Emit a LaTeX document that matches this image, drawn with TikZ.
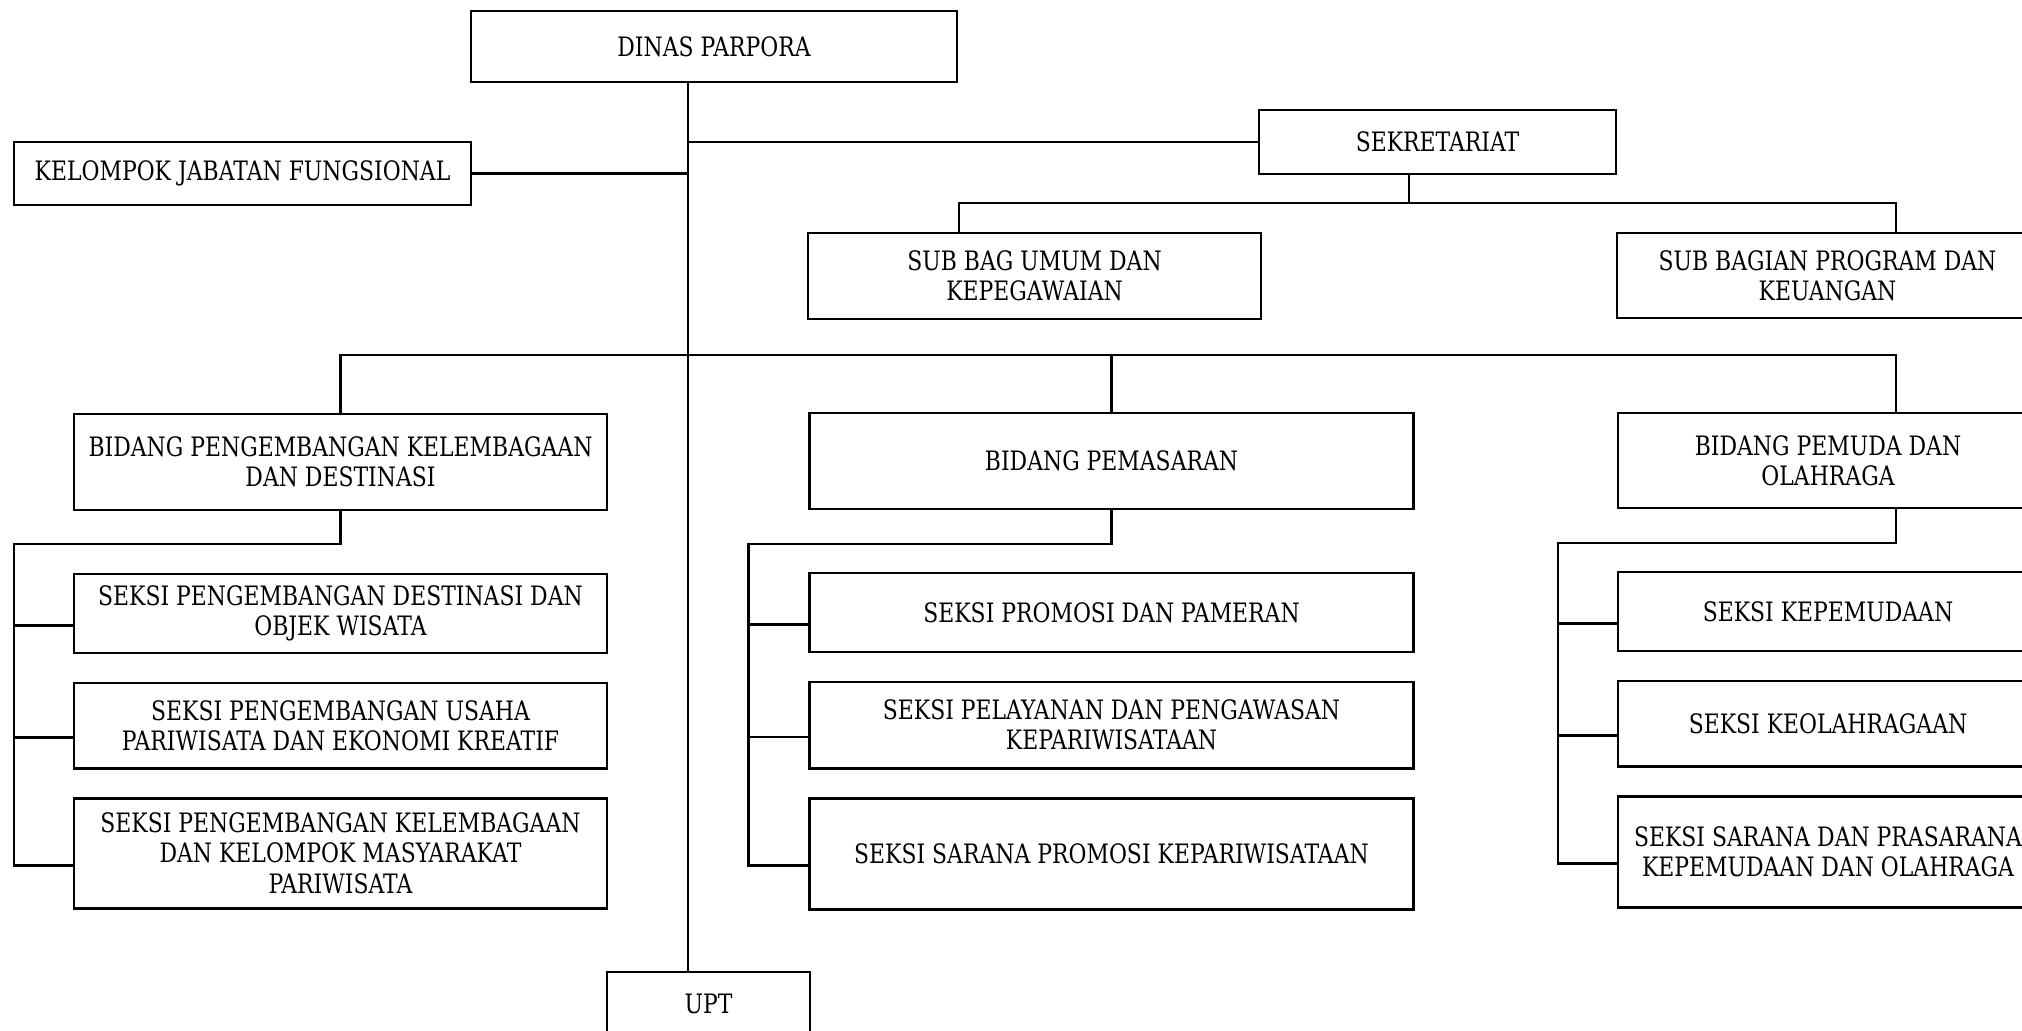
\documentclass[tikz,border=0pt]{standalone}
\usepackage{fontspec}
\setmainfont[FakeStretch=0.82]{DejaVu Serif}
\usetikzlibrary{positioning}

\begin{document}
\begin{tikzpicture}[x=0.01cm, y=-0.01cm, node distance=0.3cm]

	\tikzstyle{unit} = [rectangle, draw=black, line width=0.75pt, align=center, text centered, inner sep=2pt, outer sep=0pt, font=\fontsize{7.6}{8.54}\selectfont]
	\tikzstyle{colA} = [unit, minimum width=5.33cm]
	\tikzstyle{colB} = [unit, minimum width=6.04cm]
	\tikzstyle{colC} = [unit, minimum width=4.20cm]
	\tikzstyle{line} = [line width=0.75pt]

	\useasboundingbox (0,0) rectangle (2022,1030);

	% Nodes
	\node (dinas) [unit, minimum width=4.86cm, minimum height=0.71cm] at (714,46.5) {DINAS PARPORA};
	\node (kelompok) [unit, minimum width=4.57cm, minimum height=0.63cm] at (242.5,173.5) {KELOMPOK JABATAN FUNGSIONAL};
	\node (sekretariat) [unit, minimum width=3.57cm, minimum height=0.64cm] at (1437.5,142) {SEKRETARIAT};
	\node (subumum) [unit, minimum width=4.53cm, minimum height=0.86cm] at (1034.5,276) {SUB BAG UMUM DAN\\KEPEGAWAIAN};
	\node (subprogram) [unit, minimum width=4.21cm, minimum height=0.85cm] at (1827.5,275.5) {SUB BAGIAN PROGRAM DAN\\KEUANGAN};

	\node (bidA) [colA, minimum height=0.96cm] at (340.5,462) {BIDANG PENGEMBANGAN KELEMBAGAAN\\DAN DESTINASI};
	\node (bidB) [colB, minimum height=0.96cm] at (1111.5,461) {BIDANG PEMASARAN};
	\node (bidC) [colC, minimum height=0.95cm] at (1828,460.5) {BIDANG PEMUDA DAN\\OLAHRAGA};

	\node (sekA1) [colA, minimum height=0.79cm, below=0.64cm of bidA] {SEKSI PENGEMBANGAN DESTINASI DAN\\OBJEK WISATA};
	\node (sekA2) [colA, minimum height=0.85cm, below=of sekA1] {SEKSI PENGEMBANGAN USAHA\\PARIWISATA DAN EKONOMI KREATIF};
	\node (sekA3) [colA, minimum height=1.10cm, below=of sekA2] {SEKSI PENGEMBANGAN KELEMBAGAAN\\DAN KELOMPOK MASYARAKAT\\PARIWISATA};

	\node (sekB1) [colB, minimum height=0.79cm, below=0.64cm of bidB] {SEKSI PROMOSI DAN PAMERAN};
	\node (sekB2) [colB, minimum height=0.86cm, below=of sekB1] {SEKSI PELAYANAN DAN PENGAWASAN\\KEPARIWISATAAN};
	\node (sekB3) [colB, minimum height=1.11cm, below=of sekB2] {SEKSI SARANA PROMOSI KEPARIWISATAAN};

	\node (sekC1) [colC, minimum height=0.79cm, below=0.64cm of bidC] {SEKSI KEPEMUDAAN};
	\node (sekC2) [colC, minimum height=0.85cm, below=of sekC1] {SEKSI KEOLAHRAGAAN};
	\node (sekC3) [colC, minimum height=1.11cm, below=of sekC2] {SEKSI SARANA DAN PRASARANA\\KEPEMUDAAN DAN OLAHRAGA};

	\node (upt) [unit, minimum width=2.03cm, minimum height=0.64cm] at (708.5,1004) {UPT};

	\coordinate (trunk) at (688,0);
	\coordinate (sekstem) at (1409,203);
	\coordinate (subL) at (959,203);
	\coordinate (subR) at (1896,203);
	\coordinate (dropC) at (1896,355);
	\coordinate (stemC) at (1896,543);

	% Lines
	\draw [line] (dinas.south -| trunk) -- (upt.north -| trunk);
	\draw [line] (kelompok.east) -- (kelompok.east -| trunk);
	\draw [line] (sekretariat.west) -- (sekretariat.west -| trunk);
	\draw [line] (sekretariat.south -| sekstem) -- (sekstem);
	\draw [line] (subumum.north -| subL) -- (subL) -- (subR) -- (subprogram.north -| subR);
	\draw [line] (bidA.north) |- (dropC) -- (bidC.north -| dropC);
	\draw [line] (bidB.north) -- (bidB.north |- dropC);

	\draw [line] ([yshift=-1.2mm]sekA3.west) -- ++(-60,0) |- ([yshift=-3.4mm]bidA.south) -- (bidA.south);
	\draw [line] ([yshift=-1.2mm]sekA1.west) -- ++(-60,0);
	\draw [line] ([yshift=-1.2mm]sekA2.west) -- ++(-60,0);

	\draw [line] ([yshift=-1.2mm]sekB3.west) -- ++(-61,0) |- ([yshift=-3.5mm]bidB.south) -- (bidB.south);
	\draw [line] ([yshift=-1.2mm]sekB1.west) -- ++(-61,0);
	\draw [line] ([yshift=-1.2mm]sekB2.west) -- ++(-61,0);

	\draw [line] ([yshift=-1.2mm]sekC3.west) -- ++(-60,0) |- (stemC) -- (bidC.south -| stemC);
	\draw [line] ([yshift=-1.2mm]sekC1.west) -- ++(-60,0);
	\draw [line] ([yshift=-1.2mm]sekC2.west) -- ++(-60,0);

\end{tikzpicture}
\end{document}
